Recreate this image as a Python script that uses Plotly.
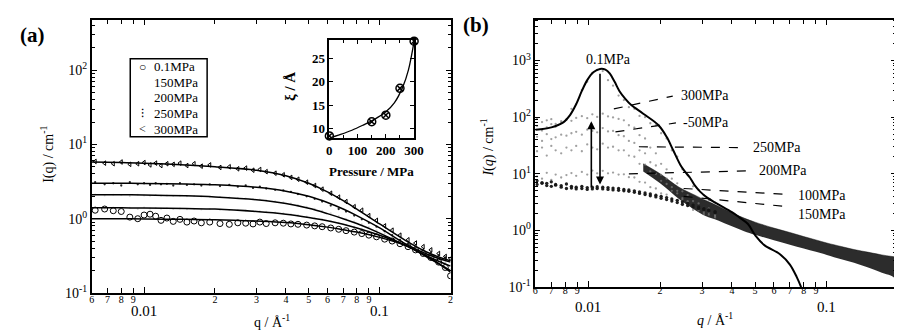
import math
import plotly.graph_objects as go

W, H = 902, 331
FONT = "Liberation Serif"

# ---------------- Panel (a) data ----------------
QA = [0.0062, 0.0068, 0.0074, 0.008, 0.0087, 0.0094, 0.0100, 0.0106, 0.0112, 0.0118,
      0.0125, 0.0133, 0.0142, 0.0152, 0.0163, 0.0175, 0.019, 0.021, 0.023, 0.025,
      0.027, 0.029, 0.031, 0.033, 0.036, 0.039, 0.042, 0.045, 0.049, 0.053,
      0.057, 0.062, 0.067, 0.072, 0.078, 0.084, 0.09, 0.097, 0.105, 0.113,
      0.122, 0.132, 0.142, 0.153, 0.165, 0.178, 0.19, 0.2]
IA_01 = [1.3, 1.35, 1.28, 1.25, 1.05, 1.0, 1.12, 1.15, 1.08, 0.95,
         1.02, 0.92, 0.98, 0.9, 0.93, 0.88, 0.9, 0.86, 0.84, 0.88,
         0.87, 0.85, 0.9, 0.86, 0.88, 0.87, 0.85, 0.84, 0.82, 0.8,
         0.78, 0.75, 0.72, 0.69, 0.66, 0.63, 0.6, 0.57, 0.53, 0.5,
         0.46, 0.42, 0.38, 0.34, 0.3, 0.26, 0.22, 0.17]
IA_150 = [1.45, 1.36, 1.42, 1.38, 1.4, 1.35, 1.41, 1.37, 1.39, 1.36,
          1.38, 1.35, 1.37, 1.34, 1.36, 1.33, 1.35, 1.32, 1.31, 1.3,
          1.29, 1.27, 1.26, 1.24, 1.21, 1.18, 1.15, 1.12, 1.07, 1.02,
          0.98, 0.93, 0.88, 0.83, 0.78, 0.73, 0.68, 0.64, 0.59, 0.54,
          0.5, 0.45, 0.41, 0.37, 0.33, 0.29, 0.25, 0.21]
IA_200 = [2.12, 2.05, 2.1, 2.08, 2.02, 2.1, 2.06, 2.04, 2.08, 2.03,
          2.05, 2.02, 2.04, 2.0, 2.02, 1.99, 1.98, 1.96, 1.93, 1.9,
          1.87, 1.84, 1.81, 1.77, 1.72, 1.66, 1.6, 1.53, 1.45, 1.36,
          1.28, 1.18, 1.09, 1.0, 0.92, 0.84, 0.77, 0.7, 0.63, 0.56,
          0.5, 0.45, 0.4, 0.36, 0.32, 0.29, 0.26, 0.24]
IA_250 = [3.1, 2.9, 3.0, 2.8, 3.1, 2.9, 3.0, 2.85, 3.0, 2.9,
          2.95, 2.8, 3.0, 2.85, 2.9, 2.8, 2.9, 2.75, 2.85, 2.7,
          2.8, 2.6, 2.7, 2.55, 2.45, 2.4, 2.3, 2.15, 2.0, 1.85,
          1.7, 1.5, 1.35, 1.25, 1.1, 0.98, 0.88, 0.78, 0.68, 0.6,
          0.52, 0.46, 0.42, 0.38, 0.35, 0.32, 0.3, 0.28]
IA_300 = [5.9, 5.6, 5.5, 5.8, 5.4, 5.5, 5.7, 5.3, 5.6, 5.2,
          5.5, 5.4, 5.6, 5.2, 5.5, 5.1, 5.3, 4.9, 5.0, 4.7,
          4.8, 4.5, 4.6, 4.3, 4.1, 3.9, 3.6, 3.4, 3.1, 2.8,
          2.5, 2.2, 1.95, 1.7, 1.45, 1.3, 1.1, 0.95, 0.8, 0.7,
          0.6, 0.52, 0.47, 0.42, 0.38, 0.34, 0.31, 0.29]

QA_FIT = [0.006, 0.008, 0.01, 0.015, 0.02, 0.03, 0.04, 0.05, 0.06, 0.07, 0.08, 0.1, 0.13, 0.16, 0.2]
FIT_01 = [1.0, 1.0, 0.99, 0.98, 0.97, 0.93, 0.89, 0.83, 0.77, 0.71, 0.66, 0.56, 0.43, 0.31, 0.19]
FIT_150 = [1.4, 1.4, 1.39, 1.37, 1.35, 1.25, 1.15, 1.04, 0.94, 0.84, 0.75, 0.6, 0.43, 0.3, 0.2]
FIT_200 = [2.1, 2.1, 2.08, 2.03, 1.96, 1.8, 1.6, 1.38, 1.17, 1.0, 0.86, 0.64, 0.43, 0.31, 0.23]
FIT_250 = [3.0, 3.0, 2.98, 2.93, 2.87, 2.65, 2.35, 2.0, 1.65, 1.35, 1.1, 0.75, 0.45, 0.33, 0.26]
FIT_300 = [5.8, 5.7, 5.6, 5.3, 5.0, 4.5, 3.8, 3.0, 2.3, 1.75, 1.35, 0.85, 0.5, 0.35, 0.27]

LEGEND_NAMES = ["0.1MPa", "150MPa", "200MPa", "250MPa", "300MPa"]
LEGEND_GLYPHS = ["○", "", "", "⁝", "<"]

# inset
P_PTS = [0.1, 150, 200, 250, 300]
XI_PTS = [8.5, 11.5, 12.9, 18.6, 28.6]
P_FIT = [0, 40, 80, 120, 160, 200, 230, 260, 280, 300]
XI_FIT = [8.0, 8.8, 9.7, 10.8, 12.0, 13.6, 15.5, 18.9, 22.5, 28.6]

# ---------------- Panel (b) data ----------------
QB = [0.0061, 0.0064, 0.0067, 0.0070, 0.0073, 0.0077, 0.0081, 0.0085, 0.0089, 0.0094,
      0.0099, 0.0104, 0.0109, 0.0115, 0.0121, 0.0127, 0.0134, 0.0141, 0.0148, 0.0156,
      0.0164, 0.0173, 0.0182, 0.0192, 0.0202, 0.0213, 0.0224, 0.0236, 0.0248, 0.0261,
      0.0275, 0.029, 0.0305, 0.032, 0.034]
IB_01 = [70, 58, 66, 75, 68, 85, 90, 140, 170, 300, 420, 600, 680, 650, 450, 360, 240, 200,
         150, 140, 105, 100, 78, 72, 52, 42, 26, 20, 12, 9.5, 6, 5.2, 4.2, 3.4, 3.1]
IB_300 = [95, 82, 88, 92, 76, 80, 91, 86, 97, 104, 96, 112, 101, 115, 103, 99, 93, 88,
          72, 65, 48, 42, 29, 23, 15, 12, 8.2, 6.8, 4.9, 4.2, 3.3, 3.0, 2.5, 2.45, 2.1]
IB_50 = [45, 38, 50, 41, 44, 49, 47, 52, 55, 49, 60, 57, 54, 64, 56, 57, 48, 46,
         38, 35, 26, 23, 16, 14, 9.6, 8.2, 5.8, 5.0, 3.7, 3.3, 2.7, 2.6, 2.2, 2.15, 1.9]
IB_250 = [25, 29, 21, 31, 26, 23, 29, 26, 31, 25, 33, 29, 27, 34, 29, 30, 26, 26,
          21, 20, 15, 14.5, 11, 10, 7.5, 6.6, 5.0, 4.5, 3.5, 3.2, 2.6, 2.5, 2.1, 2.05, 1.8]
IB_200 = [9, 8.2, 10.4, 7.8, 9.7, 8.6, 9.5, 10.3, 9.2, 10.8, 9.7, 11.4, 10.2, 11.3, 10.2, 10.5, 9.7, 9.8,
          8.7, 8.6, 7.2, 7.0, 5.8, 5.5, 4.5, 4.3, 3.5, 3.3, 2.8, 2.7, 2.3, 2.25, 1.95, 1.9, 1.7]
IB_100 = [7.5, 7, 6.8, 7.2, 6.5, 6.2, 6.6, 6.0, 5.8, 6.0, 5.7, 5.8, 5.9, 5.8, 5.7, 5.6, 5.5, 5.3,
          5.2, 5.0, 4.8, 4.6, 4.4, 4.2, 4.0, 3.8, 3.6, 3.4, 3.2, 3.0, 2.8, 2.6, 2.45, 2.3, 2.15]
IB_150 = [6.5, 6.8, 6.2, 6.0, 6.3, 5.8, 5.5, 5.6, 5.4, 5.5, 5.3, 5.4, 5.5, 5.4, 5.3, 5.2, 5.1, 5.0,
          4.9, 4.7, 4.5, 4.3, 4.1, 3.9, 3.7, 3.5, 3.3, 3.1, 2.9, 2.75, 2.6, 2.45, 2.3, 2.2, 2.05]

# dense overlapping data band (all pressures) at higher q
QB_BAND = [0.017, 0.02, 0.024, 0.028, 0.031, 0.035, 0.04, 0.045, 0.05, 0.06, 0.07, 0.08,
           0.09, 0.1, 0.115, 0.13, 0.15, 0.17, 0.185, 0.195]
BAND_UP = [15, 10, 5.8, 4.2, 3.4, 2.7, 2.05, 1.65, 1.4, 1.1, 0.92, 0.78, 0.68, 0.6, 0.52, 0.46,
           0.41, 0.37, 0.35, 0.34]
BAND_LO = [11, 6.8, 3.6, 2.3, 1.8, 1.5, 1.18, 0.97, 0.84, 0.67, 0.56, 0.48, 0.42, 0.37,
           0.31, 0.27, 0.22, 0.18, 0.16, 0.14]

QB_FIT = [0.006, 0.0063, 0.007, 0.0078, 0.0084, 0.0089, 0.0094, 0.0099, 0.0105, 0.0112,
          0.0118, 0.0123, 0.0129, 0.0135, 0.0143, 0.0151, 0.017, 0.0197, 0.0213, 0.0227,
          0.0244, 0.0254, 0.0267, 0.0279, 0.0295, 0.0315, 0.0345, 0.040, 0.043, 0.0467,
          0.0503, 0.0547, 0.0636, 0.070, 0.0748, 0.078]
IB_FIT = [60, 61, 66, 79, 110, 170, 290, 450, 620, 710,
          690, 590, 420, 290, 210, 165, 115, 72, 45, 26,
          14, 11, 8.5, 6.3, 4.8, 3.8, 3.0, 2.1, 1.7, 1.3,
          0.8, 0.55, 0.38, 0.25, 0.15, 0.1]

LABELS_B = ["0.1MPa", "300MPa", "-50MPa", "250MPa", "200MPa", "100MPa", "150MPa"]
LABEL_Q = [0.0121, 0.0240, 0.0244, 0.0481, 0.0509, 0.0740, 0.0740]
LABEL_I = [1040, 240, 79, 29, 11.3, 4.2, 1.9]
LEADER_Q0 = [None, 0.0128, 0.0130, 0.0163, 0.0148, 0.0251, 0.0251]
LEADER_I0 = [None, 140, 55, 30, 10, 5.5, 4.0]
LEADER_Q1 = [None, 0.0226, 0.0233, 0.0450, 0.0489, 0.0700, 0.0700]
LEADER_I1 = [None, 235, 79, 29, 11.3, 4.3, 2.6]

ARROW_Q = [0.0112, 0.0103]
ARROW_FROM = [620, 5.5]
ARROW_TO = [6.5, 85]

# tick labels
XT_VALS_A = [0.006, 0.007, 0.008, 0.009, 0.02, 0.03, 0.04, 0.05, 0.06, 0.07, 0.08, 0.09, 0.2]
XT_TEXT_A = ["6", "7", "8", "9", "2", "3", "4", "5", "6", "7", "8", "9", "2"]
XT_MAJOR_VALS = [0.01, 0.1]
XT_MAJOR_TEXT = ["0.01", "0.1"]
YT_VALS_A = [0.1, 1, 10, 100]
YT_TEXT_A = ["10<sup>-1</sup>", "10<sup>0</sup>", "10<sup>1</sup>", "10<sup>2</sup>"]
YT_VALS_B = [0.1, 1, 10, 100, 1000]
YT_TEXT_B = ["10<sup>-1</sup>", "10<sup>0</sup>", "10<sup>1</sup>", "10<sup>2</sup>", "10<sup>3</sup>"]

# ---------------- figure ----------------
fig = go.Figure()
BLK = "black"

# panel (a) data
fig.add_trace(go.Scatter(x=QA, y=IA_01, mode="markers", name="0.1MPa",
                         marker=dict(symbol="circle-open", size=6, color=BLK, line=dict(width=1)),
                         xaxis="x", yaxis="y"))
fig.add_trace(go.Scatter(x=QA, y=IA_150, mode="markers", name="150MPa",
                         marker=dict(symbol="circle", size=2, color="rgba(120,120,120,0.3)"),
                         xaxis="x", yaxis="y"))
fig.add_trace(go.Scatter(x=QA, y=IA_200, mode="markers", name="200MPa",
                         marker=dict(symbol="circle", size=2, color="rgba(120,120,120,0.3)"),
                         xaxis="x", yaxis="y"))
fig.add_trace(go.Scatter(x=QA, y=IA_250, mode="markers", name="250MPa",
                         marker=dict(symbol="circle", size=2.3, color="rgb(40,40,40)"),
                         xaxis="x", yaxis="y"))
fig.add_trace(go.Scatter(x=QA, y=IA_300, mode="markers", name="300MPa",
                         marker=dict(symbol="triangle-left-open", size=4, color=BLK, line=dict(width=1)),
                         xaxis="x", yaxis="y"))
# panel (a) fits
for f in [FIT_01, FIT_150, FIT_200, FIT_250, FIT_300]:
    fig.add_trace(go.Scatter(x=QA_FIT, y=f, mode="lines", line=dict(color=BLK, width=1.5, shape="spline"),
                             xaxis="x", yaxis="y", hoverinfo="skip"))

# inset
fig.add_trace(go.Scatter(x=P_FIT, y=XI_FIT, mode="lines", line=dict(color=BLK, width=1.3, shape="spline"),
                         xaxis="x3", yaxis="y3", hoverinfo="skip"))
fig.add_trace(go.Scatter(x=P_PTS, y=XI_PTS, mode="markers",
                         marker=dict(symbol="circle-x-open", size=8, color=BLK, line=dict(width=1.5)),
                         xaxis="x3", yaxis="y3", cliponaxis=False))

# panel (b) dense band
fig.add_trace(go.Scatter(x=QB_BAND, y=BAND_LO, mode="lines", line=dict(width=0, color="rgba(0,0,0,0)", shape="spline"),
                         xaxis="x2", yaxis="y2", hoverinfo="skip"))
fig.add_trace(go.Scatter(x=QB_BAND, y=BAND_UP, mode="lines", line=dict(width=0.5, color="rgba(10,10,10,0.9)", shape="spline"),
                         fill="tonexty", fillcolor="rgba(15,15,15,0.88)",
                         xaxis="x2", yaxis="y2", hoverinfo="skip"))
# panel (b) scattered data
GRAY = "rgba(120,120,120,0.7)"
for ser, col, sz in [(IB_300, GRAY, 2.3), (IB_50, GRAY, 2.3),
                     (IB_250, GRAY, 2.3), (IB_200, GRAY, 2.3),
                     (IB_01, GRAY, 2.3),
                     (IB_100, "rgba(20,20,20,0.95)", 3.3), (IB_150, "rgba(20,20,20,0.95)", 3.3)]:
    fig.add_trace(go.Scatter(x=QB, y=ser, mode="markers", marker=dict(size=sz, color=col),
                             xaxis="x2", yaxis="y2", hoverinfo="skip"))
# 0.1MPa line
fig.add_trace(go.Scatter(x=QB_FIT, y=IB_FIT, mode="lines", line=dict(color=BLK, width=2, shape="spline"),
                         xaxis="x2", yaxis="y2", hoverinfo="skip"))
# leader lines
for q0, i0, q1, i1 in zip(LEADER_Q0, LEADER_I0, LEADER_Q1, LEADER_I1):
    if q0 is None:
        continue
    fig.add_trace(go.Scatter(x=[q0, q1], y=[i0, i1], mode="lines",
                             line=dict(color=BLK, width=1.2, dash="dash"),
                             xaxis="x2", yaxis="y2", hoverinfo="skip"))

annotations = []
for lab, q, i in zip(LABELS_B, LABEL_Q, LABEL_I):
    xa = "center" if lab == "0.1MPa" else "left"
    annotations.append(dict(text=lab, x=math.log10(q), y=math.log10(i), xref="x2", yref="y2",
                            xanchor=xa, yanchor="middle", showarrow=False,
                            font=dict(family=FONT, size=14, color=BLK)))
for q, a, b in zip(ARROW_Q, ARROW_FROM, ARROW_TO):
    annotations.append(dict(x=math.log10(q), y=math.log10(b), ax=math.log10(q), ay=math.log10(a),
                            xref="x2", yref="y2", axref="x2", ayref="y2", text="",
                            showarrow=True, arrowhead=2, arrowsize=1, arrowwidth=1.6, arrowcolor=BLK))
# major x tick labels (second row)
for xr, ypx in [("x", 311), ("x2", 306)]:
    for v, t in zip(XT_MAJOR_VALS, XT_MAJOR_TEXT):
        annotations.append(dict(text=t, x=math.log10(v), y=1 - ypx / H, xref=xr, yref="paper",
                                showarrow=False, xanchor="center", yanchor="middle",
                                font=dict(family=FONT, size=15, color=BLK)))

def ptext(text, x, y, size, angle=0, bold=False, xanchor="center"):
    annotations.append(dict(text=("<b>%s</b>" % text) if bold else text, x=x / W, y=1 - y / H,
                            xref="paper", yref="paper", showarrow=False, textangle=angle,
                            xanchor=xanchor, yanchor="middle",
                            font=dict(family=FONT, size=size, color=BLK)))

ptext("(a)", 7, 28, 21, bold=True, xanchor="left")
ptext("(b)", 457, 17, 21, bold=True, xanchor="left")
ptext("I(q) / cm<sup>-1</sup>", 37, 150, 14, angle=-90)
ptext("<i>I</i>(<i>q</i>) / cm<sup>-1</sup>", 484, 143, 14, angle=-90)
ptext("q / Å<sup>-1</sup>", 265, 321, 14)
ptext("<i>q</i> / Å<sup>-1</sup>", 714, 319, 14)
ptext("ξ / Å", 283, 80, 15, angle=-90, bold=True)
ptext("Pressure / MPa", 366, 168, 13, bold=True)

# legend box for panel (a)
LEG_X0, LEG_X1, LEG_Y0, LEG_Y1 = 121, 199, 52, 132
for k, (g, name) in enumerate(zip(LEGEND_GLYPHS, LEGEND_NAMES)):
    yy = LEG_Y0 + 8 + 16 * k
    if g:
        ptext(g, 133, yy, 12)
    ptext(name, 143, yy, 13, xanchor="left")
shapes = [dict(type="rect", xref="paper", yref="paper", x0=LEG_X0 / W, x1=LEG_X1 / W,
               y0=1 - LEG_Y1 / H, y1=1 - LEG_Y0 / H, line=dict(color=BLK, width=1.5),
               fillcolor="white", layer="above")]

axis_common = dict(showline=True, linecolor=BLK, linewidth=1.5, mirror="ticks", ticks="inside",
                   ticklen=5, tickwidth=1.2, tickcolor=BLK, showgrid=False, zeroline=False)
MINOR_Y = [m * 10 ** e for e in range(-1, 4) for m in range(2, 10)]
MINOR_XA = dict(tickvals=XT_MAJOR_VALS, ticks="inside", ticklen=6, tickwidth=1.2, tickcolor=BLK, showgrid=False)

fig.update_layout(
    width=W, height=H, margin=dict(l=0, r=0, t=0, b=0),
    paper_bgcolor="white", plot_bgcolor="white",
    font=dict(family=FONT, color=BLK),
    showlegend=False,
    xaxis=dict(axis_common, type="log", domain=[82 / W, 446 / W],
               range=[math.log10(0.006), math.log10(0.2)], anchor="y",
               tickmode="array", tickvals=XT_VALS_A, ticktext=XT_TEXT_A, ticklabelstandoff=-4,
               tickfont=dict(family=FONT, size=10, color=BLK), minor=MINOR_XA),
    yaxis=dict(axis_common, type="log", domain=[1 - 292 / H, 1 - 12 / H],
               range=[-1, 2.68], anchor="x",
               tickmode="array", tickvals=YT_VALS_A, ticktext=YT_TEXT_A,
               tickfont=dict(family=FONT, size=14, color=BLK),
               minor=dict(tickvals=MINOR_Y, ticks="inside", ticklen=3, tickcolor=BLK, showgrid=False)),
    xaxis2=dict(axis_common, type="log", domain=[532 / W, 898 / W],
                range=[math.log10(0.006), math.log10(0.195)], anchor="y2",
                tickmode="array", tickvals=XT_VALS_A[:-1], ticktext=XT_TEXT_A[:-1], ticklabelstandoff=-7,
                tickfont=dict(family=FONT, size=10, color=BLK), minor=MINOR_XA),
    yaxis2=dict(axis_common, type="log", domain=[1 - 286 / H, 1 - 12 / H],
                range=[-1, 3.72], anchor="x2",
                tickmode="array", tickvals=YT_VALS_B, ticktext=YT_TEXT_B,
                tickfont=dict(family=FONT, size=14, color=BLK),
                minor=dict(tickvals=MINOR_Y, ticks="inside", ticklen=3, tickcolor=BLK, showgrid=False)),
    xaxis3=dict(axis_common, domain=[323 / W, 409 / W], range=[0, 300], anchor="y3",
                tickmode="array", tickvals=[0, 100, 200, 300], ticklen=4,
                tickfont=dict(family=FONT, size=13, color=BLK, weight="bold"),
                minor=dict(tickvals=[50, 150, 250], ticks="inside", ticklen=3, tickcolor=BLK)),
    yaxis3=dict(axis_common, domain=[1 - 133 / H, 1 - 33 / H], range=[8.1, 28.8], anchor="x3",
                tickmode="array", tickvals=[10, 15, 20, 25], ticklen=4,
                tickfont=dict(family=FONT, size=13, color=BLK, weight="bold")),
    shapes=shapes,
    annotations=annotations,
)

fig.write_html("out.html")
